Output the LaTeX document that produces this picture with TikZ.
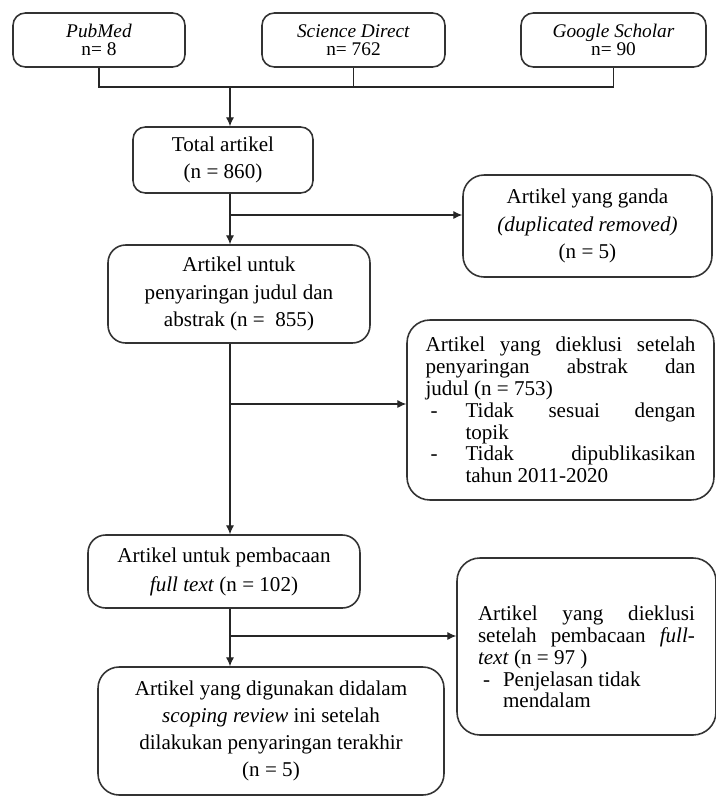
\documentclass[tikz,border=0pt]{standalone}
\usepackage{fontspec}
\setmainfont{Liberation Serif}
\usepackage{tikz}
\usetikzlibrary{arrows.meta,positioning,calc}

\tikzset{
  box/.style={draw=black!80, line width=0.9pt, rounded corners=7pt, align=center,
    inner sep=2pt, font=\fontsize{12}{15.5}\selectfont},
  srcbox/.style={box, minimum height=1.08cm, font=\fontsize{11}{10.5}\selectfont},
  notebox/.style={box, rounded corners=13pt, align=justify,
    font=\fontsize{12}{12.4}\selectfont},
  link/.style={draw=black!85, line width=0.6pt},
  arr/.style={link, -{Latex[length=5pt,width=4.5pt]}},
}
\newcommand{\dashitem}[2][0.8cm]{\par\hangindent=#1\hangafter=1\noindent\makebox[#1][l]{\hspace{0.1cm}-}#2}

\begin{document}
\begin{tikzpicture}[x=0.02cm, y=-0.02cm]
  \useasboundingbox (0,0) rectangle (716,796);

  % Sources
  \node[srcbox, minimum width=3.44cm] (pubmed) at (99,40) {\textit{PubMed}\\n= 8};
  \node[srcbox, minimum width=3.66cm] (science) at (353.5,40) {\textit{Science Direct}\\n= 762};
  \node[srcbox, minimum width=3.7cm] (google) at (613.5,40) {\textit{Google Scholar}\\n= 90};

  % Main boxes
  \node[box, minimum width=3.6cm, minimum height=1.32cm] (total) at (223,160)
    {Total artikel\\(n = 860)};
  \node[box, rounded corners=10pt, minimum width=5.24cm, minimum height=1.96cm] (judul) at (239,294)
    {Artikel untuk\\penyaringan judul dan\\abstrak (n =\ \ 855)};
  \node[box, rounded corners=10pt, minimum width=5.44cm, minimum height=1.46cm] (fulltext) at (224,571.5)
    {Artikel untuk pembacaan\\[1pt]\textit{full text} (n = 102)};
  \node[box, rounded corners=12pt, minimum width=6.92cm, minimum height=2.56cm] (akhir) at (271,731)
    {Artikel yang digunakan didalam\\\textit{scoping review} ini setelah\\dilakukan penyaringan terakhir\\(n = 5)};

  % Excluded
  \node[box, rounded corners=12pt, minimum width=4.98cm, minimum height=2.04cm] (ganda) at (587.5,226)
    {Artikel yang ganda\\\textit{(duplicated removed)}\\(n = 5)};
  \node[notebox, minimum width=6.14cm, minimum height=3.6cm, text width=5.4cm] (eklusi1) at (560.5,410)
    {Artikel yang dieklusi setelah\linebreak penyaringan abstrak dan\linebreak judul (n = 753)
     \dashitem{Tidak sesuai dengan\linebreak topik}
     \dashitem{Tidak dipublikasikan\linebreak tahun 2011-2020}\par};
  \node[notebox, minimum width=5.18cm, minimum height=3.54cm, text width=4.34cm] (eklusi2) at (586.5,646.5)
    {\rule{0pt}{0.72cm}Artikel yang dieklusi\linebreak setelah pembacaan \textit{full-}\linebreak \textit{text} (n = 97 )
     \dashitem[0.5cm]{Penjelasan tidak\newline mendalam}\par};

  % Connectors
  \coordinate (join) at (230,87);
  \draw[link] (pubmed.south) -- (pubmed.south |- join) -| (google.south);
  \draw[link] (science.south) -- (science.south |- join);
  \draw[arr] (join) -- (join |- total.north);
  \draw[arr] (total.south -| join) -- (join |- judul.north);
  \draw[arr] (judul.south -| join) -- (join |- fulltext.north);
  \draw[arr] (fulltext.south -| join) -- (join |- akhir.north);

  % Branches
  \coordinate (branch1) at (230,215);
  \coordinate (branch2) at (230,404);
  \coordinate (branch3) at (230,636);
  \draw[arr] (branch1) -- (branch1 -| ganda.west);
  \draw[arr] (branch2) -- (branch2 -| eklusi1.west);
  \draw[arr] (branch3) -- (branch3 -| eklusi2.west);
\end{tikzpicture}
\end{document}
